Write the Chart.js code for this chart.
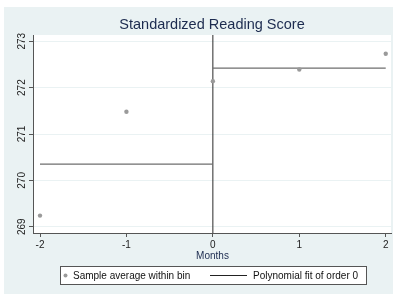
<!DOCTYPE html>
<html>
<head>
<meta charset="utf-8">
<script src="https://cdn.jsdelivr.net/npm/chart.js@4.4.0/dist/chart.umd.min.js"></script>
<style>
  html, body { margin: 0; padding: 0; background: #fff; }
  #wrap { width: 395px; height: 295px; }
</style>
</head>
<body>
<div id="wrap"><canvas id="c" width="395" height="295"></canvas></div>
<script>
// data
var months = [-2, -1, 0, 1, 2];
var readAvg = [269.24, 271.48, 272.14, 272.39, 272.73];
var fitLeft = 270.35;   // order-0 fit below cutoff
var fitRight = 272.42;  // order-0 fit above cutoff
var cutoff = 0;
var xTicks = [-2, -1, 0, 1, 2];
var yTicks = [269, 270, 271, 272, 273];

var FONT = '"Liberation Sans", Arial, sans-serif';
var NAVY = '#1c2b4f';
var BG = '#eaf2f3';

var yMin = 268.865, yMax = 273.135;

var decor = {
  id: 'decor',
  beforeDraw: function(chart){
    var ctx = chart.ctx, a = chart.chartArea;
    ctx.save();
    ctx.fillStyle = BG;
    ctx.fillRect(4, 7, 389, 287);
    ctx.fillStyle = '#fff';
    ctx.fillRect(a.left, a.top, a.right - a.left, a.bottom - a.top);
    ctx.restore();
  },
  afterDraw: function(chart){
    var ctx = chart.ctx, a = chart.chartArea;
    var ys = chart.scales.y;
    ctx.save();
    // title
    ctx.fillStyle = NAVY;
    ctx.font = '14.5px ' + FONT;
    ctx.textAlign = 'center';
    ctx.textBaseline = 'middle';
    ctx.fillText('Standardized Reading Score', (a.left + a.right) / 2, 25);

    // rotated y tick labels
    ctx.font = '10px ' + FONT;
    ctx.fillStyle = '#222';
    yTicks.forEach(function(v){
      var py = ys.getPixelForValue(v);
      ctx.save();
      ctx.translate(22, py);
      ctx.rotate(-Math.PI / 2);
      ctx.fillText(String(v), 0, 0);
      ctx.restore();
    });

    // x axis title
    ctx.fillStyle = NAVY;
    ctx.font = '10px ' + FONT;
    ctx.fillText('Months', (a.left + a.right) / 2 + 0.5, 256);

    // legend
    ctx.fillStyle = '#fff';
    ctx.fillRect(60.5, 266.5, 306, 18);
    ctx.strokeStyle = '#555';
    ctx.lineWidth = 1;
    ctx.strokeRect(60.5, 266.5, 306, 18);
    ctx.fillStyle = '#9a9a9a';
    ctx.beginPath();
    ctx.arc(65.5, 275.5, 2, 0, Math.PI * 2);
    ctx.fill();
    ctx.strokeStyle = '#222';
    ctx.beginPath();
    ctx.moveTo(210, 275.5);
    ctx.lineTo(247, 275.5);
    ctx.stroke();
    ctx.fillStyle = '#111';
    ctx.textAlign = 'left';
    ctx.font = '10px ' + FONT;
    ctx.fillText('Sample average within bin', 73, 276);
    ctx.fillText('Polynomial fit of order 0', 253, 276);
    ctx.restore();
  }
};

new Chart(document.getElementById('c'), {
  type: 'scatter',
  data: {
    datasets: [
      {
        label: 'Sample average within bin',
        data: months.map(function(m, i){ return {x: m, y: readAvg[i]}; }),
        pointRadius: 2.2,
        pointBackgroundColor: '#9a9a9a',
        pointBorderWidth: 0,
        showLine: false,
        order: 1
      },
      {
        label: 'Polynomial fit of order 0',
        data: [{x: months[0], y: fitLeft}, {x: cutoff, y: fitLeft}],
        showLine: true,
        borderColor: '#6e6e6e',
        borderWidth: 1.2,
        pointRadius: 0,
        order: 2
      },
      {
        label: 'fit right',
        data: [{x: cutoff, y: fitRight}, {x: months[months.length - 1], y: fitRight}],
        showLine: true,
        borderColor: '#6e6e6e',
        borderWidth: 1.2,
        pointRadius: 0,
        order: 2
      },
      {
        label: 'cutoff',
        data: [{x: cutoff, y: yMin}, {x: cutoff, y: yMax}],
        showLine: true,
        borderColor: '#2a2a2a',
        borderWidth: 1,
        pointRadius: 0,
        order: 3
      }
    ]
  },
  options: {
    responsive: false,
    animation: false,
    devicePixelRatio: 1,
    layout: { padding: { left: 0, right: 3, top: 35, bottom: 42 } },
    plugins: {
      legend: { display: false },
      title: { display: false },
      tooltip: { enabled: false }
    },
    scales: {
      x: {
        type: 'linear',
        min: -2.081,
        max: 2.061,
        afterBuildTicks: function(s){ s.ticks = xTicks.map(function(v){ return {value: v}; }); },
        afterFit: function(s){ s.height = 20; },
        grid: { drawOnChartArea: false, drawTicks: true, tickLength: 4, tickColor: '#555' },
        border: { display: true, color: '#555', width: 1 },
        ticks: { color: '#222', font: { family: FONT, size: 10 }, padding: 2, maxRotation: 0 }
      },
      y: {
        type: 'linear',
        min: yMin,
        max: yMax,
        afterBuildTicks: function(s){ s.ticks = yTicks.map(function(v){ return {value: v}; }); },
        afterFit: function(s){ s.width = 33; },
        grid: { color: BG, lineWidth: 1, drawTicks: true, tickLength: 4, tickColor: '#555' },
        border: { display: true, color: '#555', width: 1 },
        ticks: { color: 'rgba(0,0,0,0)', font: { family: FONT, size: 10 } }
      }
    }
  },
  plugins: [decor]
});
</script>
</body>
</html>
